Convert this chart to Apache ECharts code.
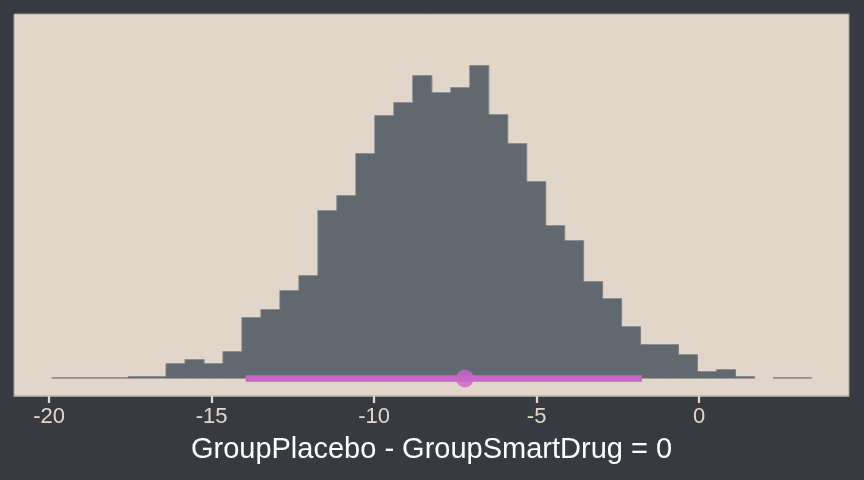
<!DOCTYPE html>
<html>
<head>
<meta charset="utf-8">
<script src="https://cdn.jsdelivr.net/npm/echarts@6/dist/echarts.min.js"></script>
<style>
  html, body { margin: 0; padding: 0; background: #373a40; }
  #main { width: 864px; height: 480px; }
</style>
</head>
<body>
<div id="main"></div>
<script>
// histogram of posterior draws (40 bins)
const binMin = -19.91
const binMax = 3.45
const counts = [1, 1, 1, 1, 2, 2, 15, 19, 15, 27, 61, 69, 88, 103, 168, 183, 225, 263, 276, 303,
  286, 291, 313, 264, 235, 197, 153, 138, 97, 80, 52, 34, 34, 24, 7, 9, 2, 0, 1, 1]
// point estimate and interval
const pointEstimate = -7.21
const intervalLow = -13.95
const intervalHigh = -1.76
const tickValues = [-20, -15, -10, -5, 0]
const axisTitle = 'GroupPlacebo - GroupSmartDrug = 0'

const binWidth = (binMax - binMin) / counts.length
const bins = counts.map(function (c, i) {
  return [binMin + i * binWidth, binMin + (i + 1) * binWidth, c]
})

var myChart = echarts.init(document.getElementById('main'))

var option = {
  backgroundColor: '#373a40',
  animation: false,
  grid: {
    left: 14,
    right: 15,
    top: 14,
    bottom: 84,
    show: true,
    backgroundColor: '#e2d6ca',
    borderColor: '#a39d97',
    borderWidth: 1
  },
  xAxis: {
    type: 'value',
    min: -21.08,
    max: 4.61,
    name: axisTitle,
    nameLocation: 'middle',
    nameGap: 39,
    nameTextStyle: {
      color: '#ffffff',
      fontSize: 29,
      fontFamily: 'Liberation Sans'
    },
    axisLine: { show: true, onZero: false, lineStyle: { color: '#a39d97', width: 1 } },
    splitLine: { show: false },
    axisTick: {
      show: true,
      customValues: tickValues,
      length: 7,
      lineStyle: { color: '#e2d6ca', width: 2.3 }
    },
    axisLabel: {
      customValues: tickValues,
      color: '#e2d6ca',
      fontSize: 22,
      fontFamily: 'Liberation Sans',
      margin: 10
    }
  },
  yAxis: {
    type: 'value',
    min: -17.5,
    max: 364.5,
    show: false
  },
  series: [
    {
      type: 'custom',
      data: bins,
      renderItem: function (params, api) {
        var i = params.dataIndex
        var c = api.value(2)
        var prev = i > 0 ? counts[i - 1] : 0
        var p0 = api.coord([api.value(0), c])
        var p1 = api.coord([api.value(1), 0])
        var pPrev = api.coord([api.value(0), prev])
        var children = []
        var rim = { stroke: '#878b8f', lineWidth: 0.8 }
        if (c > 0) {
          children.push({
            type: 'rect',
            shape: { x: p0[0], y: p0[1], width: p1[0] - p0[0] + 0.6, height: p1[1] - p0[1] },
            style: { fill: '#62686f' }
          })
          children.push({
            type: 'line',
            shape: { x1: p0[0], y1: p0[1], x2: p1[0], y2: p0[1] },
            style: rim
          })
        }
        if (c !== prev) {
          children.push({
            type: 'line',
            shape: { x1: p0[0], y1: pPrev[1], x2: p0[0], y2: p0[1] },
            style: rim
          })
        }
        return { type: 'group', children: children }
      }
    },
    {
      type: 'line',
      data: [[intervalLow, 0], [intervalHigh, 0]],
      symbol: 'none',
      lineStyle: { color: '#c965c9', width: 6.5, cap: 'butt' }
    },
    {
      type: 'scatter',
      data: [[pointEstimate, 0]],
      symbolSize: 18,
      itemStyle: { color: '#c965c9' }
    }
  ]
}

myChart.setOption(option)
</script>
</body>
</html>
